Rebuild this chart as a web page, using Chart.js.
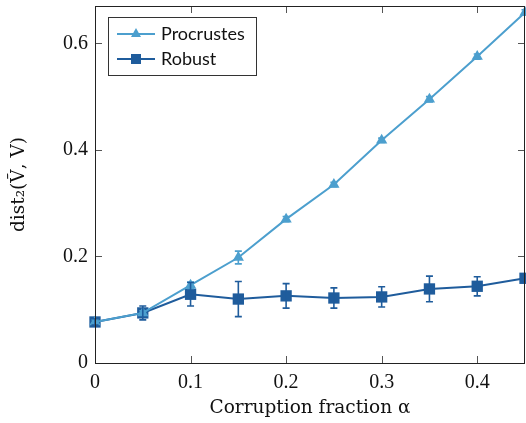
<!DOCTYPE html>
<html>
<head>
<meta charset="utf-8">
<script src="https://cdn.jsdelivr.net/npm/chart.js@4.4.0/dist/chart.umd.min.js"></script>
<style>
  html, body { margin: 0; padding: 0; background: #fff; }
  #wrap { width: 526px; height: 423px; }
</style>
</head>
<body>
<div id="wrap"><canvas id="distChart"></canvas></div>
<script>
// corruption fraction alpha
const alphas = [0, 0.05, 0.1, 0.15, 0.2, 0.25, 0.3, 0.35, 0.4, 0.45];

// mean dist_2 and error bar half-heights
const procrustes = [0.077, 0.094, 0.146, 0.198, 0.270, 0.335, 0.418, 0.495, 0.575, 0.658];
const procrustesErr = [0.004, 0.004, 0.006, 0.012, 0.005, 0.004, 0.004, 0.005, 0.005, 0.005];
const robust = [0.077, 0.094, 0.129, 0.120, 0.126, 0.122, 0.124, 0.139, 0.144, 0.159];
const robustErr = [0.006, 0.013, 0.022, 0.033, 0.023, 0.019, 0.019, 0.024, 0.018, 0.008];

const xTicks = [0, 0.1, 0.2, 0.3, 0.4];
const yTicks = [0, 0.2, 0.4, 0.6];

const lightBlue = "#4c9fce";
const darkBlue = "#1f5c9c";

// error bars drawn through the scales
const errorBars = {
    id: "errorBars",
    afterDatasetsDraw(chart) {
        const ctx = chart.ctx;
        const xs = chart.scales.x, ys = chart.scales.y;
        chart.data.datasets.forEach(ds => {
            if (!ds.errors) return;
            ctx.save();
            ctx.strokeStyle = ds.borderColor;
            ctx.lineWidth = 1.6;
            ds.data.forEach((p, i) => {
                const px = xs.getPixelForValue(p.x);
                const top = ys.getPixelForValue(p.y + ds.errors[i]);
                const bot = ys.getPixelForValue(p.y - ds.errors[i]);
                ctx.beginPath();
                ctx.moveTo(px, top); ctx.lineTo(px, bot);
                ctx.moveTo(px - 3.5, top); ctx.lineTo(px + 3.5, top);
                ctx.moveTo(px - 3.5, bot); ctx.lineTo(px + 3.5, bot);
                ctx.stroke();
            });
            ctx.restore();
        });
    }
};

// box frame, inward ticks on all four sides, legend inside plot
const frame = {
    id: "frame",
    afterDraw(chart) {
        const ctx = chart.ctx;
        const a = chart.chartArea;
        const xs = chart.scales.x, ys = chart.scales.y;
        ctx.save();
        ctx.strokeStyle = "#555";
        ctx.lineWidth = 1;
        ctx.beginPath();
        xTicks.forEach(v => {
            const px = Math.round(xs.getPixelForValue(v)) + 0.5;
            ctx.moveTo(px, a.bottom); ctx.lineTo(px, a.bottom - 7);
            ctx.moveTo(px, a.top); ctx.lineTo(px, a.top + 7);
        });
        yTicks.forEach(v => {
            const py = Math.round(ys.getPixelForValue(v)) + 0.5;
            ctx.moveTo(a.left, py); ctx.lineTo(a.left + 7, py);
            ctx.moveTo(a.right, py); ctx.lineTo(a.right - 7, py);
        });
        ctx.stroke();
        ctx.strokeStyle = "#222";
        ctx.strokeRect(Math.round(a.left) + 0.5, Math.round(a.top) + 0.5,
            Math.round(a.right - a.left) - 1, Math.round(a.bottom - a.top));

        // legend
        const lx = 108.5, ly = 17.5, lw = 148, lh = 58;
        ctx.fillStyle = "#fff";
        ctx.fillRect(lx, ly, lw, lh);
        ctx.strokeStyle = "#333";
        ctx.strokeRect(lx, ly, lw, lh);
        ctx.font = "18px Lato, 'DejaVu Sans', sans-serif";
        ctx.textBaseline = "middle";
        chart.data.datasets.forEach((ds, i) => {
            const cy = 34 + i * 25;
            ctx.strokeStyle = ds.borderColor;
            ctx.lineWidth = 2;
            ctx.beginPath();
            ctx.moveTo(117, cy); ctx.lineTo(155, cy);
            ctx.stroke();
            ctx.fillStyle = ds.borderColor;
            if (ds.pointStyle === "triangle") {
                ctx.beginPath();
                ctx.moveTo(136, cy - 6); ctx.lineTo(141, cy + 3); ctx.lineTo(131, cy + 3);
                ctx.closePath(); ctx.fill();
            } else {
                ctx.fillRect(131, cy - 5, 10, 10);
            }
            ctx.fillStyle = "#111";
            ctx.fillText(ds.label, 161, cy);
        });
        ctx.restore();
    }
};

function pts(ys) {
    return alphas.map((x, i) => ({ x: x, y: ys[i] }));
}

new Chart(document.getElementById("distChart").getContext("2d"), {
    type: "line",
    data: {
        datasets: [{
            label: "Procrustes",
            data: pts(procrustes),
            errors: procrustesErr,
            borderColor: lightBlue,
            backgroundColor: lightBlue,
            borderWidth: 2,
            pointStyle: "triangle",
            pointRadius: 6.5,
            pointBorderWidth: 0,
            tension: 0,
            clip: false
        }, {
            label: "Robust",
            data: pts(robust),
            errors: robustErr,
            borderColor: darkBlue,
            backgroundColor: darkBlue,
            borderWidth: 2,
            pointStyle: "rect",
            pointRadius: 8,
            pointBorderWidth: 0,
            tension: 0,
            clip: false
        }]
    },
    options: {
        responsive: true,
        maintainAspectRatio: false,
        animation: false,
        layout: { autoPadding: false, padding: { top: 6, right: 1, left: 0, bottom: 0 } },
        plugins: {
            legend: { display: false },
            tooltip: { enabled: false }
        },
        scales: {
            x: {
                type: "linear",
                min: 0,
                max: 0.45,
                afterBuildTicks: s => { s.ticks = xTicks.map(v => ({ value: v })); },
                afterFit: s => { s.height = 60; s.paddingLeft = 0; s.paddingRight = 0; },
                grid: { display: false, drawTicks: false },
                border: { display: false },
                ticks: {
                    color: "#111",
                    padding: 8,
                    maxRotation: 0,
                    font: { family: "'Liberation Serif', serif", size: 20 },
                    callback: v => String(v)
                },
                title: {
                    display: true,
                    text: "Corruption fraction α",
                    color: "#111",
                    padding: { top: 3 },
                    font: { family: "'DejaVu Serif', serif", size: 18.5 }
                }
            },
            y: {
                min: 0,
                max: 0.67,
                afterBuildTicks: s => { s.ticks = yTicks.map(v => ({ value: v })); },
                afterFit: s => { s.width = 95; s.paddingTop = 0; s.paddingBottom = 0; },
                grid: { display: false, drawTicks: false },
                border: { display: false },
                ticks: {
                    color: "#111",
                    padding: 7,
                    font: { family: "'Liberation Serif', serif", size: 20 },
                    callback: v => String(v)
                },
                title: {
                    display: true,
                    text: "dist₂(Ṽ, V)",
                    color: "#111",
                    padding: { top: 8, bottom: 2 },
                    font: { family: "'DejaVu Serif', serif", size: 18.5 }
                }
            }
        }
    },
    plugins: [errorBars, frame]
});
</script>
</body>
</html>
